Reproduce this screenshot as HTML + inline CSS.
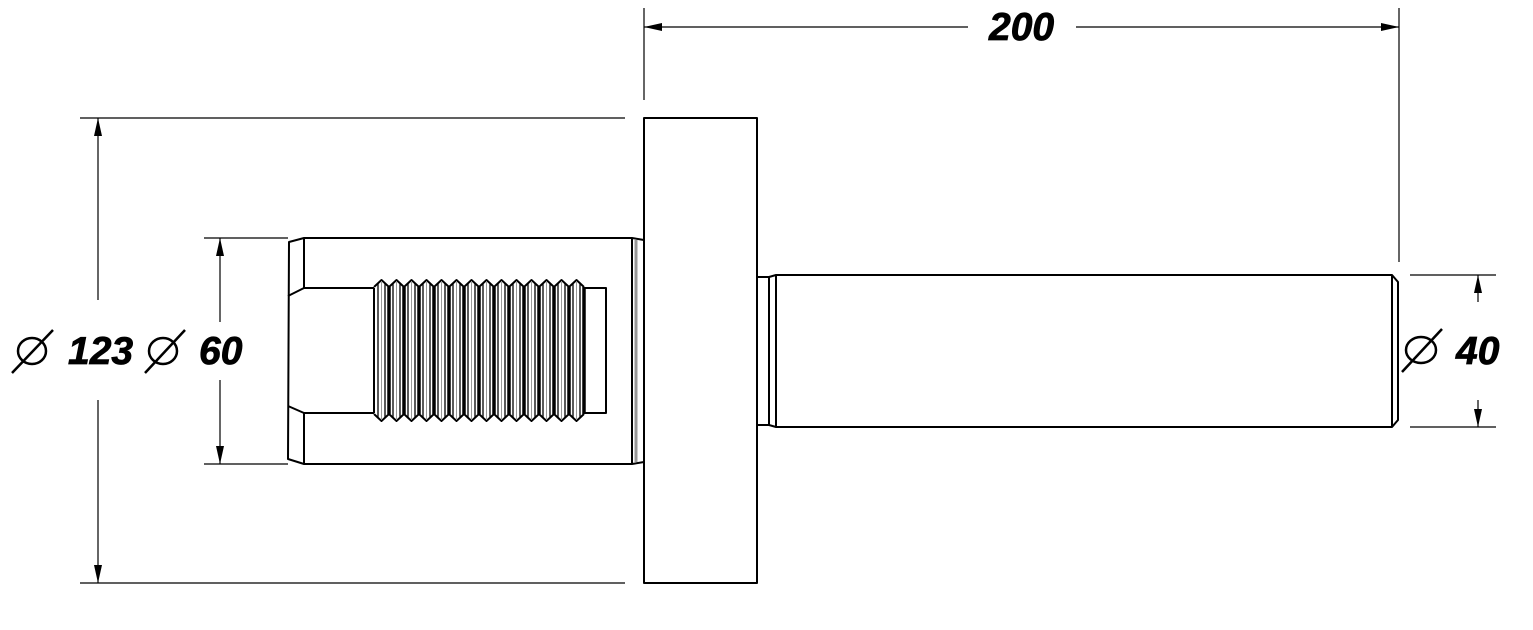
<!DOCTYPE html>
<html><head><meta charset="utf-8"><style>
html,body{margin:0;padding:0;background:#fff;}
svg{display:block;}
text{font-family:"Liberation Sans",sans-serif;font-weight:bold;font-style:italic;font-size:39px;fill:#000;stroke:#000;stroke-width:0.8;}
</style></head><body>
<svg width="1533" height="630" viewBox="0 0 1533 630" xmlns="http://www.w3.org/2000/svg">
<g stroke="#000" stroke-width="1.2" fill="none">
<line x1="644" y1="8" x2="644" y2="100"/>
<line x1="1399" y1="8" x2="1399" y2="262"/>
<line x1="644" y1="27" x2="968" y2="27"/>
<line x1="1076" y1="27" x2="1399" y2="27"/>
<line x1="80" y1="118" x2="625" y2="118"/>
<line x1="80" y1="583" x2="625" y2="583"/>
<line x1="98" y1="300" x2="98" y2="118"/>
<line x1="98" y1="400" x2="98" y2="583"/>
<line x1="204" y1="238" x2="288" y2="238"/>
<line x1="204" y1="464" x2="288" y2="464"/>
<line x1="220" y1="322" x2="220" y2="238"/>
<line x1="220" y1="380" x2="220" y2="464"/>
<line x1="1410" y1="275" x2="1496" y2="275"/>
<line x1="1410" y1="427" x2="1496" y2="427"/>
<line x1="1478" y1="302" x2="1478" y2="275"/>
<line x1="1478" y1="400" x2="1478" y2="427"/>
</g>
<g fill="#000">
<polygon points="644,27 662,23 662,31"/>
<polygon points="1399,27 1381,23 1381,31"/>
<polygon points="98,118 94,136 102,136"/>
<polygon points="98,583 94,565 102,565"/>
<polygon points="220,238 216,256 224,256"/>
<polygon points="220,464 216,446 224,446"/>
<polygon points="1478,275 1474,293 1482,293"/>
<polygon points="1478,427 1474,409 1482,409"/>
</g>
<g stroke="#000" stroke-width="2.5" fill="none" stroke-linejoin="round">
<ellipse cx="32" cy="351" rx="14" ry="13"/><line x1="12" y1="373" x2="53" y2="330"/>
<ellipse cx="163" cy="351" rx="14" ry="13"/><line x1="145" y1="373" x2="185" y2="330"/>
<ellipse cx="1421" cy="350" rx="15" ry="13"/><line x1="1402" y1="372" x2="1442" y2="329"/>
</g>
<text x="68" y="364">123</text>
<text x="199" y="364">60</text>
<text x="1456" y="364">40</text>
<text x="989" y="40">200</text>
<g stroke="#000" stroke-width="2" fill="none" stroke-linejoin="round">
<rect x="644" y="118" width="113" height="465"/>
<path d="M644,240 L632,238 L304,238 L289,242 L288,459 L304,464 L632,464 L644,462"/>
<line x1="304" y1="238" x2="304" y2="288"/>
<line x1="304" y1="413" x2="304" y2="464"/>
<line x1="288" y1="296" x2="304" y2="288"/>
<line x1="288" y1="406" x2="304" y2="413"/>
<line x1="304" y1="288" x2="374" y2="288"/>
<line x1="304" y1="413" x2="374" y2="413"/>
<line x1="632" y1="238" x2="632" y2="464"/>
<rect x="584" y="288" width="22" height="125"/>
<path d="M374,288 L374,413"/>
<path d="M374,287 L381.5,280 L389,287 L396.5,280 L404,287 L411.5,280 L419,287 L426.5,280 L434,287 L441.5,280 L449,287 L456.5,280 L464,287 L471.5,280 L479,287 L486.5,280 L494,287 L501.5,280 L509,287 L516.5,280 L524,287 L531.5,280 L539,287 L546.5,280 L554,287 L561.5,280 L569,287 L576.5,280 L584,287"/>
<path d="M374,414 L381.5,421 L389,414 L396.5,421 L404,414 L411.5,421 L419,414 L426.5,421 L434,414 L441.5,421 L449,414 L456.5,421 L464,414 L471.5,421 L479,414 L486.5,421 L494,414 L501.5,421 L509,414 L516.5,421 L524,414 L531.5,421 L539,414 L546.5,421 L554,414 L561.5,421 L569,414 L576.5,421 L584,414"/>
<path d="M757,277 L769,277 L776,275 L1392,275 L1398,282 L1398,420 L1392,427 L776,427 L769,425 L757,425"/>
<line x1="769" y1="277" x2="769" y2="425"/>
<line x1="776" y1="275" x2="776" y2="427"/>
<line x1="1392" y1="275" x2="1392" y2="427"/>
</g>
<g stroke="#000" fill="none">
<g stroke-width="3.5">
<line x1="389" y1="287" x2="389" y2="414"/><line x1="404" y1="287" x2="404" y2="414"/><line x1="419" y1="287" x2="419" y2="414"/><line x1="434" y1="287" x2="434" y2="414"/><line x1="449" y1="287" x2="449" y2="414"/><line x1="464" y1="287" x2="464" y2="414"/><line x1="479" y1="287" x2="479" y2="414"/><line x1="494" y1="287" x2="494" y2="414"/><line x1="509" y1="287" x2="509" y2="414"/><line x1="524" y1="287" x2="524" y2="414"/><line x1="539" y1="287" x2="539" y2="414"/><line x1="554" y1="287" x2="554" y2="414"/><line x1="569" y1="287" x2="569" y2="414"/><line x1="584" y1="287" x2="584" y2="414"/>
</g>
<g stroke-width="1.3">
<line x1="378" y1="283" x2="378" y2="418"/><line x1="385" y1="283" x2="385" y2="418"/>
<line x1="393" y1="283" x2="393" y2="418"/><line x1="400" y1="283" x2="400" y2="418"/>
<line x1="408" y1="283" x2="408" y2="418"/><line x1="415" y1="283" x2="415" y2="418"/>
<line x1="423" y1="283" x2="423" y2="418"/><line x1="430" y1="283" x2="430" y2="418"/>
<line x1="438" y1="283" x2="438" y2="418"/><line x1="445" y1="283" x2="445" y2="418"/>
<line x1="453" y1="283" x2="453" y2="418"/><line x1="460" y1="283" x2="460" y2="418"/>
<line x1="468" y1="283" x2="468" y2="418"/><line x1="475" y1="283" x2="475" y2="418"/>
<line x1="483" y1="283" x2="483" y2="418"/><line x1="490" y1="283" x2="490" y2="418"/>
<line x1="498" y1="283" x2="498" y2="418"/><line x1="505" y1="283" x2="505" y2="418"/>
<line x1="513" y1="283" x2="513" y2="418"/><line x1="520" y1="283" x2="520" y2="418"/>
<line x1="528" y1="283" x2="528" y2="418"/><line x1="535" y1="283" x2="535" y2="418"/>
<line x1="543" y1="283" x2="543" y2="418"/><line x1="550" y1="283" x2="550" y2="418"/>
<line x1="558" y1="283" x2="558" y2="418"/><line x1="565" y1="283" x2="565" y2="418"/>
<line x1="573" y1="283" x2="573" y2="418"/><line x1="580" y1="283" x2="580" y2="418"/>
</g>
<g stroke="#999" stroke-width="1">
<line x1="381.5" y1="281" x2="381.5" y2="420"/><line x1="396.5" y1="281" x2="396.5" y2="420"/><line x1="411.5" y1="281" x2="411.5" y2="420"/><line x1="426.5" y1="281" x2="426.5" y2="420"/><line x1="441.5" y1="281" x2="441.5" y2="420"/><line x1="456.5" y1="281" x2="456.5" y2="420"/><line x1="471.5" y1="281" x2="471.5" y2="420"/><line x1="486.5" y1="281" x2="486.5" y2="420"/><line x1="501.5" y1="281" x2="501.5" y2="420"/><line x1="516.5" y1="281" x2="516.5" y2="420"/><line x1="531.5" y1="281" x2="531.5" y2="420"/><line x1="546.5" y1="281" x2="546.5" y2="420"/><line x1="561.5" y1="281" x2="561.5" y2="420"/><line x1="576.5" y1="281" x2="576.5" y2="420"/>
<line x1="636" y1="240" x2="636" y2="462" stroke-width="3"/>
</g>
</g>
</svg>
</body></html>
